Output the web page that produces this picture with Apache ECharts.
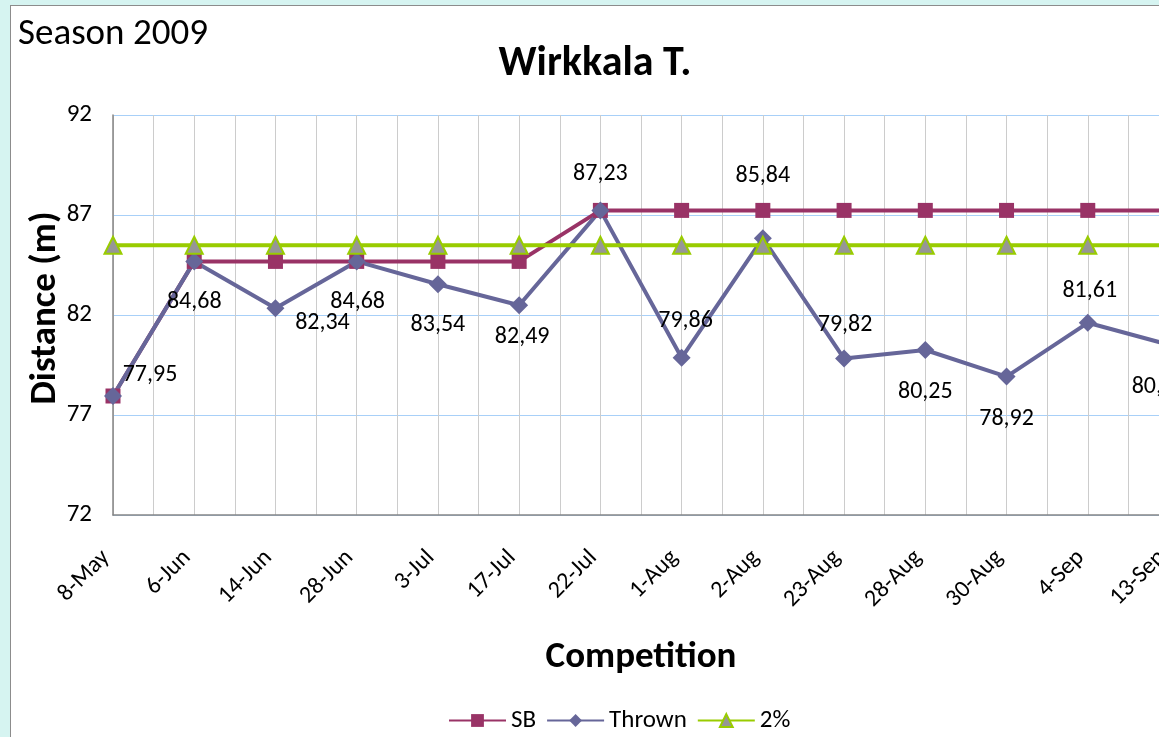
<!DOCTYPE html>
<html>
<head>
<meta charset="utf-8">
<script src="https://cdn.jsdelivr.net/npm/echarts@6/dist/echarts.min.js"></script>
<style>
  html, body { margin: 0; padding: 0; width: 1159px; height: 737px; overflow: hidden; background: #d6f4f1; }
  #frame { position: absolute; left: 10px; top: 5px; width: 1240px; height: 800px; background: #ffffff; border: 1px solid #8c8c8c; }
  #c { position: absolute; left: 0; top: 0; width: 1240px; height: 760px; }
</style>
</head>
<body>
<div id="frame"><div id="c"></div></div>
<script>
const categories = ['8-May','6-Jun','14-Jun','28-Jun','3-Jul','17-Jul','22-Jul','1-Aug','2-Aug','23-Aug','28-Aug','30-Aug','4-Sep','13-Sep'];
const sbValues = [77.95, 84.68, 84.68, 84.68, 84.68, 84.68, 87.23, 87.23, 87.23, 87.23, 87.23, 87.23, 87.23, 87.23];
const thrownValues = [77.95, 84.68, 82.34, 84.68, 83.54, 82.49, 87.23, 79.86, 85.84, 79.82, 80.25, 78.92, 81.61, 80.51];
const twoPctValues = [85.49, 85.49, 85.49, 85.49, 85.49, 85.49, 85.49, 85.49, 85.49, 85.49, 85.49, 85.49, 85.49, 85.49];
const yTicks = [72, 77, 82, 87, 92];

// label placement (style, not data)
const thrownLabelOffsets = [[37,-21],[0,41],[47,15],[1,41],[0,41],[3,32],[0,-36],[4,-37],[0,-62],[1,-34],[0,42],[0,42],[2,-32],[-10,42]];

const FONT = 'Carlito, Lato, "Open Sans", sans-serif';
const chart = echarts.init(document.getElementById('c'), null, {renderer: 'canvas'});

const toPairs = arr => arr.map((v, i) => [i, v]);

chart.setOption({
  animation: false,
  textStyle: { fontFamily: FONT },
  graphic: [
    { type: 'text', x: 7, y: 29, style: { text: 'Season 2009', fontSize: 37, fontFamily: FONT, fill: '#000', textVerticalAlign: 'middle' } },
    { type: 'text', x: 584, y: 58, style: { text: 'Wirkkala T.', fontSize: 42, fontWeight: 'bold', fontFamily: FONT, fill: '#000', textAlign: 'center', textVerticalAlign: 'middle' } },
    { type: 'text', x: 35, y: 302, rotation: Math.PI / 2, style: { text: 'Distance (m)', fontSize: 37, fontWeight: 'bold', fontFamily: FONT, fill: '#000', textAlign: 'center', textVerticalAlign: 'middle' } },
    { type: 'text', x: 630, y: 652, style: { text: 'Competition', fontSize: 37, fontWeight: 'bold', fontFamily: FONT, fill: '#000', textAlign: 'center', textVerticalAlign: 'middle' } }
  ],
  legend: {
    left: 437, top: 702, padding: 0,
    itemWidth: 57, itemHeight: 16, itemGap: 10,
    textStyle: { fontSize: 25, fontFamily: FONT, color: '#000' },
    data: ['SB', 'Thrown', '2%']
  },
  grid: { left: 102, top: 109, width: 1056, height: 400, containLabel: false },
  xAxis: {
    type: 'value', min: 0, max: categories.length - 1, interval: 0.5,
    axisLine: { show: true, lineStyle: { color: '#868686', width: 1.5 } },
    axisTick: { show: false },
    splitLine: { show: true, lineStyle: { color: '#cccccc', width: 1 } },
    axisLabel: {
      rotate: 45, margin: 32, fontSize: 24, fontFamily: FONT, color: '#000',
      padding: [0, 10, 0, 0],
      showMaxLabel: true, showMinLabel: true,
      formatter: v => Number.isInteger(v) ? categories[v] : ''
    }
  },
  yAxis: {
    type: 'value', min: yTicks[0], max: yTicks[yTicks.length - 1], interval: yTicks[1] - yTicks[0],
    axisLine: { show: true, lineStyle: { color: '#868686', width: 1.5 } },
    axisTick: { show: false },
    splitLine: { show: true, lineStyle: { color: '#a8d0f8', width: 1 } },
    axisLabel: { margin: 21, fontSize: 25, fontFamily: FONT, color: '#000' }
  },
  series: [
    {
      name: 'SB', type: 'line', data: toPairs(sbValues),
      symbol: 'rect', symbolSize: 15,
      lineStyle: { color: '#993366', width: 4 },
      itemStyle: { color: '#993366' }
    },
    {
      name: 'Thrown', type: 'line',
      data: thrownValues.map((v, i) => ({ value: [i, v], label: { offset: thrownLabelOffsets[i] } })),
      symbol: 'diamond', symbolSize: 18,
      lineStyle: { color: '#666699', width: 4 },
      itemStyle: { color: '#666699' },
      label: {
        show: true, position: 'inside', fontSize: 24, fontFamily: FONT, color: '#000',
        align: 'center', verticalAlign: 'middle',
        formatter: p => p.value[1].toFixed(2).replace('.', ',')
      }
    },
    {
      name: '2%', type: 'line', data: toPairs(twoPctValues),
      symbol: 'triangle', symbolSize: 17,
      lineStyle: { color: '#99cc00', width: 4 },
      itemStyle: { color: '#969696', borderColor: '#99cc00', borderWidth: 2 }
    }
  ]
});
</script>
</body>
</html>
